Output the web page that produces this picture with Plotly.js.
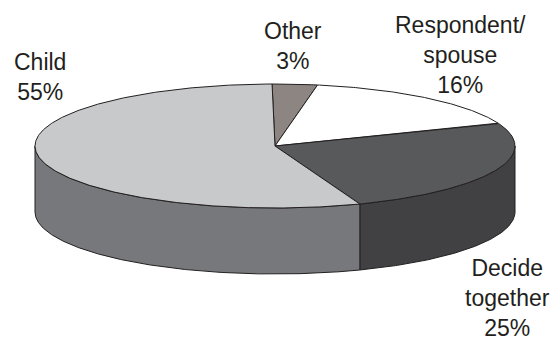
<!DOCTYPE html>
<html>
<head>
<meta charset="utf-8">
<script src="https://cdn.plot.ly/plotly-3.0.1.min.js"></script>
<style>
  html, body { margin: 0; padding: 0; background: #ffffff; }
  #chart { width: 552px; height: 339px; }
</style>
</head>
<body>
<div id="chart"></div>
<script>
// Who decides: shares of responses
const categories = ['Other', 'Respondent/spouse', 'Decide together', 'Child'];
const labelLines = [['Other'], ['Respondent/', 'spouse'], ['Decide', 'together'], ['Child']];
const shares = [3, 16, 25, 55];

// Slice styling (top face / rim)
const topColors = ['#8c8582', '#ffffff', '#58595b', '#c8c9cb'];
const sideColors = ['#6b6562', '#d8d8d8', '#414042', '#77787b'];
const edgeColor = '#231f20';

// Disc geometry in plot units (axes span the full page)
const cx = 275, cy = 146, rx = 240, ry = 62, depth = 66;
const startDeg = -0.7;           // first slice edge, clockwise from 12 o'clock

// Label placement
const labelPos = [
  { x: 293, y: 46 },
  { x: 460, y: 55 },
  { x: 507, y: 298 },
  { x: 40, y: 77 }
];

const rad = d => d * Math.PI / 180;
const px = d => cx + rx * Math.sin(rad(d));
const py = d => cy - ry * Math.cos(rad(d));

function arc(a, b, dy) {
  const n = Math.max(2, Math.ceil(Math.abs(b - a) / 0.5));
  const xs = [], ys = [];
  for (let i = 0; i <= n; i++) {
    const d = a + (b - a) * i / n;
    xs.push(px(d));
    ys.push(py(d) + dy);
  }
  return { xs, ys };
}

const total = shares.reduce((s, v) => s + v, 0);
const spans = [];
let acc = startDeg;
shares.forEach(v => {
  const sweep = 360 * v / total;
  spans.push([acc, acc + sweep]);
  acc += sweep;
});

const sideTraces = [];
const topTraces = [];

spans.forEach(([a, b], i) => {
  // front rim: visible where the slice crosses 90..270 degrees (also check wrapped range)
  [[a, b], [a - 360, b - 360], [a + 360, b + 360]].forEach(([sa, sb]) => {
    const lo = Math.max(sa, 90), hi = Math.min(sb, 270);
    if (hi > lo) {
      const upper = arc(lo, hi, 0);
      const lower = arc(hi, lo, depth);
      sideTraces.push({
        type: 'scatter', mode: 'lines',
        x: upper.xs.concat(lower.xs, [upper.xs[0]]),
        y: upper.ys.concat(lower.ys, [upper.ys[0]]),
        fill: 'toself', fillcolor: sideColors[i],
        line: { color: edgeColor, width: 1 },
        hoverinfo: 'skip', name: categories[i]
      });
    }
  });

  // top face wedge
  const t = arc(a, b, 0);
  topTraces.push({
    type: 'scatter', mode: 'lines',
    x: [cx].concat(t.xs, [cx]),
    y: [cy].concat(t.ys, [cy]),
    fill: 'toself', fillcolor: topColors[i],
    line: { color: edgeColor, width: 1 },
    hoverinfo: 'skip', name: categories[i]
  });
});

const annotations = categories.map((c, i) => ({
  x: labelPos[i].x, y: labelPos[i].y, xref: 'x', yref: 'y',
  xanchor: 'center', yanchor: 'middle', align: 'center',
  showarrow: false,
  text: labelLines[i].concat([shares[i] + '%']).join('<br>'),
  font: { family: 'Liberation Sans, Arial, sans-serif', size: 23, color: '#231f20' }
}));

const layout = {
  width: 552, height: 339,
  margin: { l: 0, r: 0, t: 0, b: 0 },
  paper_bgcolor: '#ffffff', plot_bgcolor: '#ffffff',
  showlegend: false,
  xaxis: { range: [0, 552], visible: false, fixedrange: true },
  yaxis: { range: [339, 0], visible: false, fixedrange: true },
  annotations
};

Plotly.newPlot('chart', sideTraces.concat(topTraces), layout, { staticPlot: true, displayModeBar: false });
</script>
</body>
</html>
